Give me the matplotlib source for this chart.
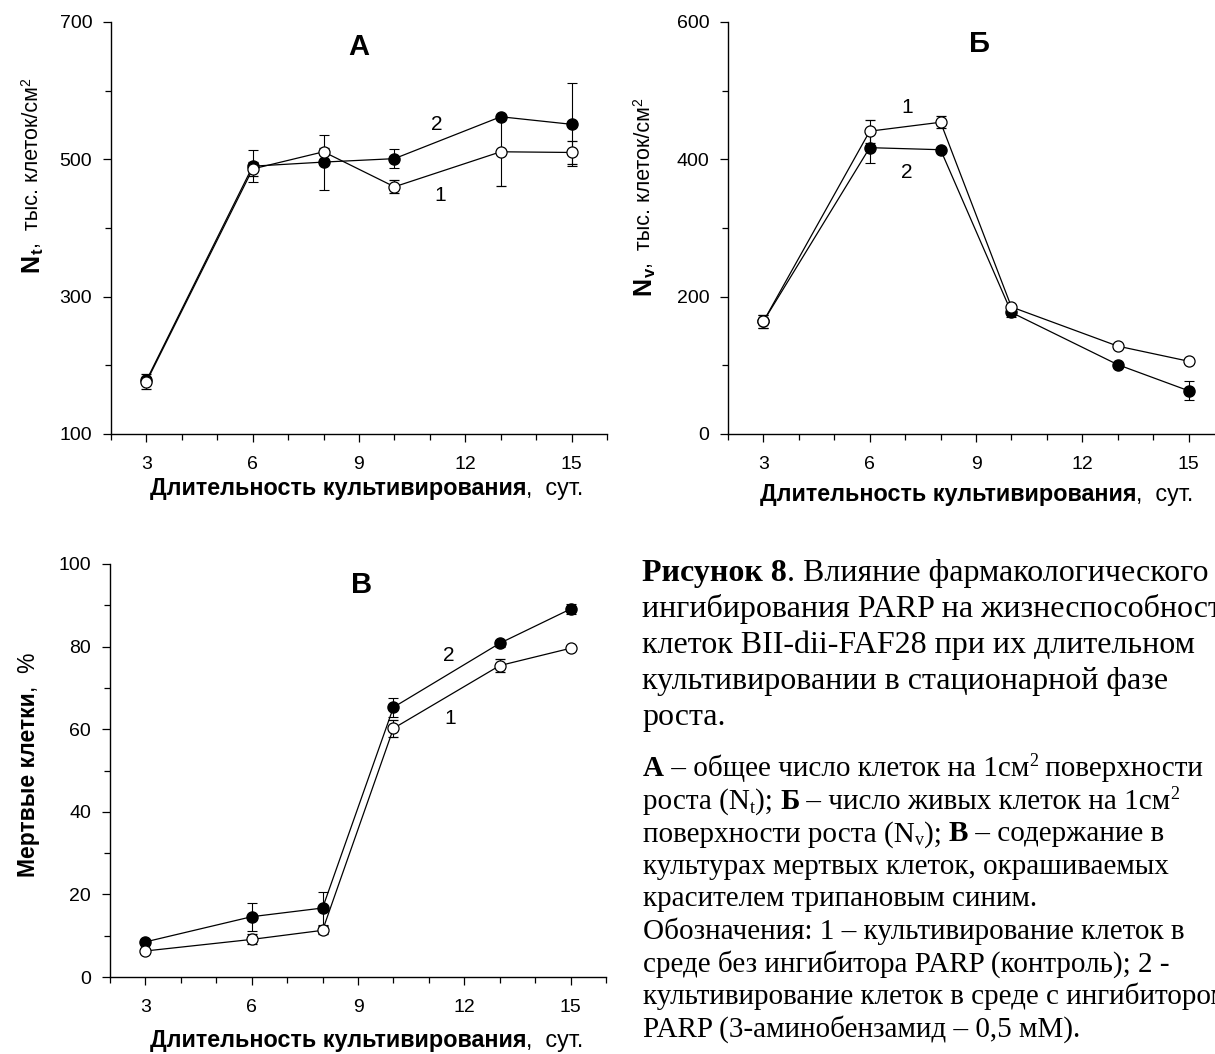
import matplotlib
matplotlib.use('Agg')
import matplotlib.pyplot as plt

plt.rcParams['font.family'] = ['Liberation Sans', 'DejaVu Sans']

W, H = 1215, 1054

# --- data ---
days = [3, 6, 8, 10, 13, 15]

# A: total cell count, thousand cells / cm2
nt_ctrl = [176, 486, 511, 460, 511, 510]
nt_ctrl_err = [11, 10, 5, 9.5, 50, 17]
nt_parp = [178, 490, 496, 501, 562, 551]
nt_parp_err = [5, 23, 40, 14, 3, 60]

# Б: viable cell count
nv_ctrl = [164, 441, 454, 185, 128, 106]
nv_ctrl_err = [10, 17, 9, 3, 3, 3]
nv_parp = [164, 417, 414, 177, 101, 63]
nv_parp_err = [10, 23, 3, 7, 3, 14]

# В: dead cells, %
dead_ctrl = [6.3, 9.1, 11.3, 60.2, 75.4, 79.6]
dead_ctrl_err = [0.5, 1.2, 1.0, 2.0, 1.5, 0.5]
dead_parp = [8.5, 14.6, 16.7, 65.3, 80.8, 89.1]
dead_parp_err = [0.5, 3.4, 4.0, 2.3, 0.8, 1.3]

xticks = [3, 6, 9, 12, 15]

fig = plt.figure(figsize=(W / 100, H / 100), dpi=100)
rend = fig.canvas.get_renderer()


def box(l, t, r, b):
    return [l / W, 1 - b / H, (r - l) / W, (b - t) / H]


def width(s, size, weight, family):
    # advance width of a string in pixels (trailing spaces counted)
    t1 = fig.text(0, 0, s + 'x', fontsize=size, fontweight=weight, family=family)
    t2 = fig.text(0, 0, 'x', fontsize=size, fontweight=weight, family=family)
    w = t1.get_window_extent(rend).width - t2.get_window_extent(rend).width
    t1.remove()
    t2.remove()
    return w


def runs(x, y, parts, rot=0):
    # parts: (text, size, weight, family, shift down in px)
    adv = 0
    for s, size, weight, family, shift in parts:
        if rot == 0:
            px, py = x + adv, y + shift
        else:
            px, py = x + shift, y - adv
        fig.text(px / W, 1 - py / H, s, fontsize=size, fontweight=weight,
                 family=family, rotation=rot, rotation_mode='anchor',
                 ha='left', va='baseline')
        adv += width(s, size, weight, family)


def panel(pos, ctrl, ctrl_err, parp, parp_err, ylim, major, minor):
    ax = fig.add_axes(pos)
    ax.errorbar(days, parp, yerr=parp_err, fmt='-o', color='black',
                mfc='black', mec='black', ms=8, lw=0.9, elinewidth=0.8,
                capsize=3.5, capthick=0.8, zorder=2)
    ax.errorbar(days, ctrl, yerr=ctrl_err, fmt='-o', color='black',
                mfc='white', mec='black', ms=8, mew=0.9, lw=0.9,
                elinewidth=0.8, capsize=3.5, capthick=0.8, zorder=3)
    ax.set_xlim(2, 16)
    ax.set_ylim(*ylim)
    ax.set_xticks(xticks)
    ax.set_xticks(range(2, 17), minor=True)
    ax.set_yticks(major)
    ax.set_yticks(minor, minor=True)
    for s in ['top', 'right']:
        ax.spines[s].set_visible(False)
    for s in ['left', 'bottom']:
        ax.spines[s].set_linewidth(1.0)
    ax.tick_params(which='major', direction='out', length=5.5, width=0.9,
                   labelsize=14, pad=8)
    ax.tick_params(which='minor', direction='out', length=4, width=0.9)
    ax.tick_params(axis='x', which='major', pad=10)
    ax.patch.set_alpha(0)
    return ax


axA = panel(box(111, 22, 607, 434), nt_ctrl, nt_ctrl_err, nt_parp, nt_parp_err,
            (100, 700), [100, 300, 500, 700], [200, 400, 600])
axB = panel(box(728, 22, 1224, 434), nv_ctrl, nv_ctrl_err, nv_parp, nv_parp_err,
            (0, 600), [0, 200, 400, 600], [100, 300, 500])
axC = panel(box(110, 564, 606, 977), dead_ctrl, dead_ctrl_err, dead_parp, dead_parp_err,
            (0, 100), [0, 20, 40, 60, 80, 100], [10, 30, 50, 70, 90])

# panel letters and curve numbers
axA.text(9.0, 664, 'А', fontsize=21, fontweight='bold', ha='center', va='center')
axA.text(11.2, 551, '2', fontsize=15, ha='center', va='center')
axA.text(11.3, 447, '1', fontsize=15, ha='center', va='center')
axB.text(9.1, 568, 'Б', fontsize=21, fontweight='bold', ha='center', va='center')
axB.text(7.05, 476, '1', fontsize=15, ha='center', va='center')
axB.text(7.05, 381, '2', fontsize=15, ha='center', va='center')
axC.text(9.1, 95, 'В', fontsize=21, fontweight='bold', ha='center', va='center')
axC.text(11.55, 77.8, '2', fontsize=15, ha='center', va='center')
axC.text(11.6, 62.6, '1', fontsize=15, ha='center', va='center')

SANS = 'Liberation Sans'
SERIF = 'Liberation Serif'

# x labels
xlab = [('Длительность культивирования', 16.8, 'bold', SANS, 0),
        (',  сут.', 16.8, 'normal', SANS, 0)]
runs(150, 495, xlab)
runs(760, 501, xlab)
runs(150, 1047, xlab)

# y labels
runs(38, 272, [('N', 18, 'bold', SANS, 0), ('t', 12, 'bold', SANS, 5),
               (',  тыс. клеток/см', 15.5, 'normal', SANS, 0),
               ('2', 10, 'normal', SANS, -8)], rot=90)
runs(650, 295, [('N', 18, 'bold', SANS, 0), ('v', 12, 'bold', SANS, 5),
                (',  тыс. клеток/см', 15.5, 'normal', SANS, 0),
                ('2', 10, 'normal', SANS, -8)], rot=90)
runs(35, 877, [('Мертвые клетки', 16.5, 'bold', SANS, 0),
               (',  %', 16.5, 'normal', SANS, 0)], rot=90)

# caption
C1 = 23
C2 = 21
caption1 = [
    [('Рисунок 8', C1, 'bold', SERIF, 0), ('. Влияние фармакологического', C1, 'normal', SERIF, 0)],
    [('ингибирования PARP на жизнеспособность', C1, 'normal', SERIF, 0)],
    [('клеток BII-dii-FAF28 при их длительном', C1, 'normal', SERIF, 0)],
    [('культивировании в стационарной фазе', C1, 'normal', SERIF, 0)],
    [('роста.', C1, 'normal', SERIF, 0)],
]
caption2 = [
    [('А', C2, 'bold', SERIF, 0), (' – общее число клеток на 1см', C2, 'normal', SERIF, 0),
     ('2', 13, 'normal', SERIF, -10), (' поверхности', C2, 'normal', SERIF, 0)],
    [('роста (N', C2, 'normal', SERIF, 0), ('t', 13, 'normal', SERIF, 4),
     ('); ', C2, 'normal', SERIF, 0), ('Б', C2, 'bold', SERIF, 0),
     (' – число живых клеток на 1см', C2, 'normal', SERIF, 0), ('2', 13, 'normal', SERIF, -10)],
    [('поверхности роста (N', C2, 'normal', SERIF, 0), ('v', 13, 'normal', SERIF, 4),
     ('); ', C2, 'normal', SERIF, 0), ('В', C2, 'bold', SERIF, 0),
     (' – содержание в', C2, 'normal', SERIF, 0)],
    [('культурах мертвых клеток, окрашиваемых', C2, 'normal', SERIF, 0)],
    [('красителем трипановым синим.', C2, 'normal', SERIF, 0)],
    [('Обозначения: 1 – культивирование клеток в', C2, 'normal', SERIF, 0)],
    [('среде без ингибитора PARP (контроль); 2 -', C2, 'normal', SERIF, 0)],
    [('культивирование клеток в среде с ингибитором', C2, 'normal', SERIF, 0)],
    [('PARP (3-аминобензамид – 0,5 мМ).', C2, 'normal', SERIF, 0)],
]
for i, line in enumerate(caption1):
    runs(642, 581 + 36 * i, line)
for i, line in enumerate(caption2):
    runs(643, 776 + 32.6 * i, line)

fig.savefig('out.png', dpi=100)
